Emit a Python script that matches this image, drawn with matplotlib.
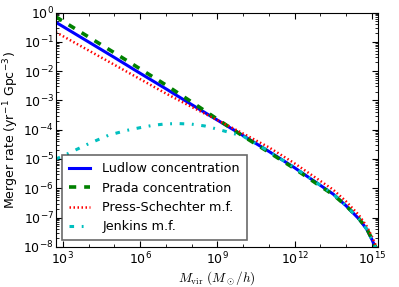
import numpy as np
import matplotlib
matplotlib.use("Agg")
import matplotlib.pyplot as plt
from matplotlib.ticker import LogLocator, NullFormatter, FixedLocator, LogFormatterSciNotation

plt.rcParams['mathtext.fontset'] = 'cm'
plt.rcParams['font.family'] = ['DejaVu Sans']

# log10 of halo mass (M_sun/h)
log_mass = [2.73, 3.0, 4.0, 5.0, 6.0, 7.0, 8.0, 9.0, 10.0, 11.0, 12.0,
            12.5, 13.0, 13.5, 14.0, 14.5, 14.8, 15.0, 15.1, 15.25]
# log10 of merger rate (yr^-1 Gpc^-3)
ludlow = [-0.33, -0.47, -1.00, -1.53, -2.07, -2.60, -3.14, -3.67, -4.20, -4.74, -5.30,
          -5.60, -5.90, -6.20, -6.60, -7.05, -7.40, -7.75, -7.95, -8.20]
prada = [-0.14, -0.29, -0.83, -1.37, -1.92, -2.47, -3.05, -3.64, -4.22, -4.77, -5.33,
         -5.63, -5.93, -6.22, -6.60, -7.04, -7.38, -7.73, -7.93, -8.18]
press_schechter = [-0.67, -0.80, -1.29, -1.78, -2.27, -2.76, -3.22, -3.67, -4.13, -4.60, -5.15,
                   -5.45, -5.75, -6.05, -6.45, -6.92, -7.30, -7.65, -7.85, -8.15]
log_mass_j = [2.73, 3.0, 3.5, 4.0, 4.8, 5.5, 6.0, 6.5, 7.0, 7.5, 8.0, 8.5, 9.0, 9.5, 10.0,
              11.0, 12.0, 12.5, 13.0, 13.5, 14.0, 14.5, 14.8, 15.0, 15.1, 15.25]
jenkins = [-5.00, -4.90, -4.69, -4.48, -4.18, -4.02, -3.93, -3.85, -3.80, -3.79, -3.81, -3.87,
           -3.98, -4.10, -4.22, -4.74, -5.30, -5.60, -5.90, -6.20, -6.60, -7.05, -7.40, -7.75, -7.95, -8.20]

labels = ["Ludlow concentration", "Prada concentration", "Press-Schechter m.f.", "Jenkins m.f."]
x_major_ticks = [1e3, 1e6, 1e9, 1e12, 1e15]
x_minor_ticks = [1e4, 1e5, 1e7, 1e8, 1e10, 1e11, 1e13, 1e14]
y_major_ticks = [1e-8, 1e-7, 1e-6, 1e-5, 1e-4, 1e-3, 1e-2, 1e-1, 1e0]

fig = plt.figure(figsize=(3.99, 2.87), dpi=100)
ax = fig.add_axes([0.140, 0.140, 0.807, 0.816])

m = 10.0 ** np.array(log_mass)
mj = 10.0 ** np.array(log_mass_j)
ax.plot(m, 10.0 ** np.array(ludlow), color='b', lw=2.2, ls='-', label=labels[0])
ax.plot(m, 10.0 ** np.array(prada), color='g', lw=2.6, ls=(0, (2.0, 2.2)), label=labels[1])
ax.plot(m, 10.0 ** np.array(press_schechter), color='r', lw=1.8, ls=(0, (0.6, 1.0)), label=labels[2])
ax.plot(mj, 10.0 ** np.array(jenkins), color='c', lw=2.2, ls=(0, (1.5, 2.5, 0.6, 2.5)), label=labels[3])

ax.set_xscale('log')
ax.set_yscale('log')
ax.set_xlim(540, 1.7e15)
ax.set_ylim(1e-8, 1)

ax.xaxis.set_major_locator(FixedLocator(x_major_ticks))
ax.xaxis.set_major_formatter(LogFormatterSciNotation())
ax.xaxis.set_minor_locator(FixedLocator(x_minor_ticks))
ax.xaxis.set_minor_formatter(NullFormatter())
ax.yaxis.set_major_locator(FixedLocator(y_major_ticks))
ax.yaxis.set_major_formatter(LogFormatterSciNotation())
ax.yaxis.set_minor_locator(LogLocator(base=10.0, subs=np.arange(2, 10), numticks=30))
ax.yaxis.set_minor_formatter(NullFormatter())

ax.tick_params(which='both', direction='in', top=True, right=True, labelsize=9)
ax.tick_params(which='major', length=4, width=0.8, pad=2.5)
ax.tick_params(axis='y', which='major', pad=1.5)
ax.tick_params(which='minor', length=2, width=0.6)

ax.set_xlabel(r"$M_{\rm vir}\ (M_\odot/h)$", fontsize=9.5, labelpad=2)
ax.set_ylabel(r"Merger rate (yr$^{\mathregular{-1}}$ Gpc$^{\mathregular{-3}}$)", fontsize=9, labelpad=0)
ax.yaxis.set_label_coords(-0.108, 0.5)

leg = ax.legend(loc='lower left', fontsize=9.2, frameon=True, fancybox=False,
                handlelength=1.6, handletextpad=1.0, borderpad=0.55,
                borderaxespad=0.5, labelspacing=0.5)
leg.get_frame().set_edgecolor('#444444')
leg.get_frame().set_linewidth(1.2)

fig.savefig("out.png", dpi=100)
